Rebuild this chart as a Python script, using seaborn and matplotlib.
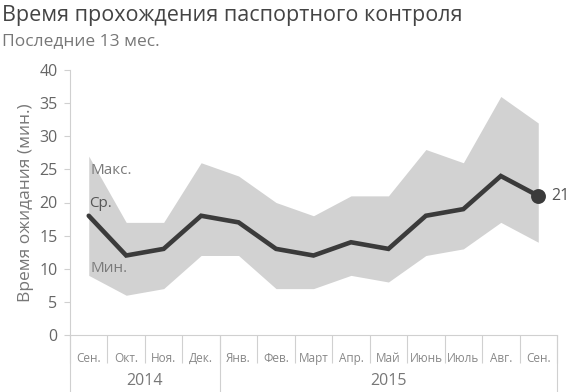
import matplotlib
matplotlib.use("Agg")
import matplotlib.pyplot as plt
import matplotlib.transforms as mtransforms
import seaborn as sns
import pandas as pd
import numpy as np

months = ["Сен.", "Окт.", "Ноя.", "Дек.", "Янв.", "Фев.", "Март", "Апр.", "Май", "Июнь", "Июль", "Авг.", "Сен."]
years = ["2014", "2015"]
year_counts = [4, 9]
max_vals = [27, 17, 17, 26, 24, 20, 18, 21, 21, 28, 26, 36, 32]
avg_vals = [18, 12, 13, 18, 17, 13, 12, 14, 13, 18, 19, 24, 21]
min_vals = [9, 6, 7, 12, 12, 7, 7, 9, 8, 12, 13, 17, 14]
yticks = [0, 5, 10, 15, 20, 25, 30, 35, 40]

sns.set_style("white")
plt.rcParams["font.family"] = ["Open Sans", "DejaVu Sans"]

df = pd.DataFrame({"idx": np.arange(len(months)), "month": months,
                   "max": max_vals, "avg": avg_vals, "min": min_vals})

fig = plt.figure(figsize=(5.72, 3.92), dpi=100)
ax = fig.add_axes([70/572, 1-335/392, 487/572, 265/392])

band = "#d2d2d2"
dark = "#3b3b3b"
grey_txt = "#7a7a7a"
axis_col = "#d0d0d0"

ax.fill_between(df["idx"], df["min"], df["max"], color=band, linewidth=0, zorder=1)
sns.lineplot(data=df, x="idx", y="avg", ax=ax, color=dark, linewidth=3.3, zorder=3,
             solid_joinstyle="miter")
last = df.iloc[-1]
ax.scatter([last["idx"]], [last["avg"]], s=115, color=dark, zorder=4, linewidths=0)
ax.annotate(f"{int(last['avg'])}", (last["idx"], last["avg"]), xytext=(9, 0),
            textcoords="offset points", va="center", ha="left", fontsize=11.5, color="#555555")

# series labels
ax.text(0.05, max_vals[0] - 2.2, "Макс.", fontsize=11, color=grey_txt, va="center", ha="left", zorder=5)
ax.text(0.0, avg_vals[0] + 1.8, "Ср.", fontsize=11, color="#555555", va="center", ha="left", zorder=5)
ax.text(0.05, min_vals[0] + 1.1, "Мин.", fontsize=11, color=grey_txt, va="center", ha="left", zorder=5)

n = len(months)
ax.set_xlim(-0.5, n - 0.5)
ax.set_ylim(0, 40)
ax.set_yticks(yticks)
ax.set_yticklabels([str(v) for v in yticks], fontsize=11.5, color="#666666")
ax.tick_params(axis="y", length=4, width=0.8, color=axis_col, pad=5, left=True)

ax.set_xticks(np.arange(-0.5, n, 1.0))
ax.set_xticklabels([])
ax.tick_params(axis="x", which="major", length=20, width=0.8, color=axis_col, direction="out", bottom=True)
ax.set_xticks(np.arange(n), minor=True)
ax.set_xticklabels(months, minor=True, fontsize=8.5, color="#888888")
ax.tick_params(axis="x", which="minor", length=0, pad=12)

# year separators and labels
trans = mtransforms.blended_transform_factory(ax.transData, ax.transAxes)
start = 0
bounds = [-0.5]
for y, c in zip(years, year_counts):
    center = start + (c - 1) / 2
    ax.text(center, -0.175, y, transform=trans, ha="center", va="center", fontsize=11.5, color="#777777")
    start += c
    bounds.append(start - 0.5)
for b in bounds:
    ax.plot([b, b], [0, -0.22], transform=trans, color=axis_col, linewidth=0.8, clip_on=False)

for s in ["top", "right"]:
    ax.spines[s].set_visible(False)
for s in ["left", "bottom"]:
    ax.spines[s].set_color(axis_col)
    ax.spines[s].set_linewidth(0.8)

ax.set_xlabel("")
ax.set_ylabel("Время ожидания (мин.)", fontsize=12.5, color="#777777", labelpad=4)

fig.text(2/572, 1-15/392, "Время прохождения паспортного контроля", fontsize=15.5, color="#444444",
         ha="left", va="center")
fig.text(2/572, 1-41/392, "Последние 13 мес.", fontsize=12.5, color="#777777", ha="left", va="center")

fig.savefig("out.png", dpi=100)
